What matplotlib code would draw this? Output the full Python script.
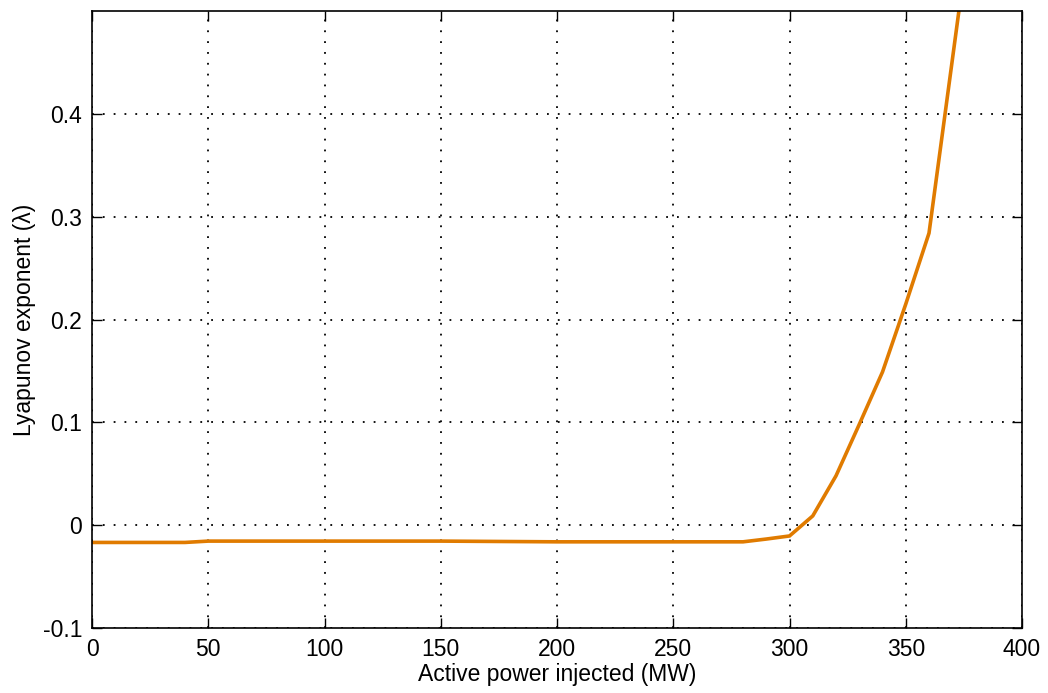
import numpy as np
import matplotlib.pyplot as plt

# Expoente de Lyapunov vs potência ativa injetada
p_mw = [0, 10, 20, 30, 40, 50, 100, 150, 200, 250, 280, 290, 300,
        310, 320, 330, 340, 350, 360, 370, 380]
lyap = [-0.0168, -0.0168, -0.0168, -0.0168, -0.0168, -0.0155, -0.0155, -0.0155,
        -0.0162, -0.0162, -0.0162, -0.0135, -0.0105,
        0.009, 0.048, 0.098, 0.149, 0.215, 0.284, 0.452, 0.62]

x_ticks = [0, 50, 100, 150, 200, 250, 300, 350, 400]
y_ticks = [-0.1, 0, 0.1, 0.2, 0.3, 0.4]
y_labels = ['-0.1', '0', '0.1', '0.2', '0.3', '0.4']

plt.rcParams['font.family'] = ['Liberation Sans', 'DejaVu Sans']

fig = plt.figure(figsize=(10.48, 6.93), dpi=100)
ax = fig.add_axes([0.0878, 0.0938, 0.9752 - 0.0878, 0.9841 - 0.0938])

ax.plot(p_mw, lyap, color='#E07B00', linewidth=2.6, solid_joinstyle='miter')

ax.set_xlim(0, 400)
ax.set_ylim(-0.1, 0.5)
ax.set_xticks(x_ticks)
ax.set_yticks(y_ticks)
ax.set_yticklabels(y_labels)
ax.tick_params(direction='in', length=7, width=1, top=True, right=True,
               labelsize=16.5, colors='black')
ax.tick_params(axis='x', pad=7)
ax.tick_params(axis='y', pad=7)
ax.grid(True, color='black', linestyle=(0, (1, 5)), linewidth=1.3)
for s in ax.spines.values():
    s.set_linewidth(1.2)

ax.set_xlabel('Active power injected (MW)', fontsize=16.5, labelpad=2)
ax.set_ylabel('Lyapunov exponent (λ)', fontsize=16.5, labelpad=5)

plt.savefig('out.png', dpi=100)
